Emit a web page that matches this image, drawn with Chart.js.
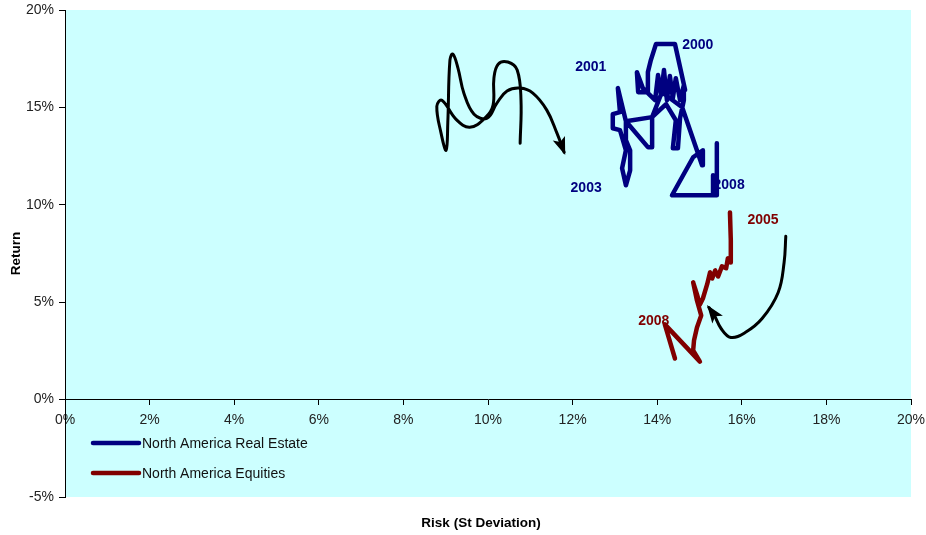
<!DOCTYPE html>
<html><head><meta charset="utf-8">
<script src="https://cdn.jsdelivr.net/npm/chart.js@4"></script>
<style>html,body{margin:0;padding:0;background:#fff}</style>
</head><body>
<canvas id="c" width="926" height="535"></canvas>
<script>
// ---- data (risk = St Deviation %, return = %) ----
const seriesNames = ['North America Real Estate', 'North America Equities'];
const realEstateRisk = [14.66,14.42,13.97,13.85,13.78,13.78,13.55,13.52,13.66,13.95,14.02,14.09,14.16,14.23,14.30,14.37,14.44,14.54,14.63,14.63,14.54,14.49,14.37,14.44,14.21,13.88,13.88,13.78,13.26,13.07,13.12,12.95,12.95,13.12,13.26,13.17,13.26,13.36,13.36,13.26,13.26,13.88,14.11,14.59,15.06,15.08,14.85,14.35,15.32,15.32,15.32,15.41,15.41,15.41];
const realEstateReturn = [15.89,18.25,18.25,17.43,16.81,15.78,15.78,16.81,15.99,15.37,16.66,15.63,16.92,15.37,16.61,15.48,16.50,15.37,16.14,15.37,14.45,12.90,12.90,14.34,15.17,14.50,12.96,12.96,14.29,15.99,14.76,14.65,13.93,13.83,12.80,11.88,11.00,11.77,12.80,13.32,14.29,14.50,15.78,15.01,12.03,12.80,12.44,10.49,10.49,11.52,10.49,10.49,13.16,11.00];
const equitiesRisk = [15.72,15.74,15.74,15.67,15.63,15.53,15.44,15.37,15.30,15.25,15.18,15.08,15.01,14.94,14.85,14.94,15.04,14.94,14.87,14.85,15.01,14.18,14.42];
const equitiesReturn = [9.61,8.17,7.04,7.25,6.74,6.84,6.32,6.63,6.22,6.53,5.91,5.19,4.88,5.40,6.02,5.09,4.32,3.70,3.03,2.52,1.95,3.86,2.11];
// annotation arrows (hand-drawn curves in the original)
const arrow1Risk = [10.76,10.78,10.69,10.47,10.24,10.14,10.12,9.95,9.57,9.24,8.91,8.79,8.89,9.01,9.05,9.10,9.17,9.29,9.43,9.67,9.98,10.21,10.45,10.76,11.06,11.39,11.63,11.80];
const arrow1Return = [13.16,15.37,16.92,17.33,17.22,16.50,15.12,14.50,13.98,14.40,15.37,15.06,13.68,12.80,14.24,17.43,17.74,17.02,15.73,14.65,14.45,15.22,15.84,15.99,15.73,14.86,13.68,12.70];
const arrow2Risk = [17.04,17.00,16.86,16.48,16.08,15.74,15.51,15.34,15.22];
const arrow2Return = [8.38,7.04,5.50,4.16,3.44,3.19,3.65,4.37,4.73];
// year labels
const yearLabels = ['2000','2001','2003','2008','2005','2008'];
const yearLabelSeries = [0,0,0,0,1,1];
const yearLabelRisk = [14.96,12.43,12.32,15.70,16.50,13.92];
const yearLabelReturn = [18.20,17.07,10.85,11.00,9.20,4.01];
// ticks
const xTickValues = [0,2,4,6,8,10,12,14,16,18,20];
const yTickValues = [-5,0,5,10,15,20];
const xTitle = 'Risk (St Deviation)';
const yTitle = 'Return';

// ---- styles ----
const FONT = 'Liberation Sans, Arial, sans-serif';
const seriesColors = ['#000080', '#800000'];
const plotBg = '#CCFFFF';

const pts = (xs, ys) => xs.map((x, i) => ({x: x, y: ys[i]}));

const decor = {
  id: 'decor',
  beforeDraw(chart) {
    const {ctx, chartArea: a} = chart;
    ctx.save();
    ctx.fillStyle = plotBg;
    ctx.fillRect(a.left, a.top, a.right - a.left, a.bottom - a.top);
    ctx.restore();
  },
  afterDatasetsDraw(chart) {
    const {ctx} = chart;
    const sx = chart.scales.x, sy = chart.scales.y;
    ctx.save();
    // arrowheads on the annotation curves
    [2, 3].forEach(di => {
      const meta = chart.getDatasetMeta(di);
      const n = meta.data.length;
      const p = meta.data[n - 1];
      let fx = p.cp1x, fy = p.cp1y;
      if (fx === undefined || (Math.abs(fx - p.x) < 0.5 && Math.abs(fy - p.y) < 0.5)) {
        fx = meta.data[n - 2].x; fy = meta.data[n - 2].y;
      }
      const ang = Math.atan2(p.y - fy, p.x - fx);
      const L = 15, W = 6.5;
      ctx.fillStyle = '#000';
      ctx.beginPath();
      ctx.moveTo(p.x + Math.cos(ang) * 3, p.y + Math.sin(ang) * 3);
      ctx.lineTo(p.x - Math.cos(ang) * L + Math.sin(ang) * W, p.y - Math.sin(ang) * L - Math.cos(ang) * W);
      ctx.lineTo(p.x - Math.cos(ang) * (L - 4), p.y - Math.sin(ang) * (L - 4));
      ctx.lineTo(p.x - Math.cos(ang) * L - Math.sin(ang) * W, p.y - Math.sin(ang) * L + Math.cos(ang) * W);
      ctx.closePath();
      ctx.fill();
    });
    // year labels
    ctx.font = 'bold 14px ' + FONT;
    ctx.textAlign = 'center';
    ctx.textBaseline = 'middle';
    yearLabels.forEach((t, i) => {
      ctx.fillStyle = seriesColors[yearLabelSeries[i]];
      ctx.fillText(t, sx.getPixelForValue(yearLabelRisk[i]), sy.getPixelForValue(yearLabelReturn[i]));
    });
    ctx.restore();
  },
  afterDraw(chart) {
    const {ctx, chartArea: a} = chart;
    ctx.save();
    // legend (inside plot area, bottom-left)
    ctx.font = '14px ' + FONT;
    ctx.textBaseline = 'middle';
    ctx.textAlign = 'left';
    ctx.lineCap = 'round';
    ctx.lineWidth = 4.5;
    [0, 1].forEach(i => {
      const y = a.bottom - 54 + i * 30;
      ctx.strokeStyle = seriesColors[i];
      ctx.beginPath();
      ctx.moveTo(a.left + 28, y);
      ctx.lineTo(a.left + 74, y);
      ctx.stroke();
      ctx.fillStyle = '#111';
      ctx.fillText(chart.data.datasets[i].label, a.left + 77, y + 1);
    });
    // axis titles
    ctx.font = 'bold 13.5px ' + FONT;
    ctx.fillStyle = '#000';
    ctx.textAlign = 'center';
    ctx.fillText(xTitle, (a.left + a.right) / 2 - 7, a.bottom + 26);
    ctx.translate(16, (a.top + a.bottom) / 2);
    ctx.rotate(-Math.PI / 2);
    ctx.fillText(yTitle, 0, 0);
    ctx.restore();
  }
};

new Chart(document.getElementById('c'), {
  type: 'scatter',
  data: {
    datasets: [
      {label: seriesNames[0], data: pts(realEstateRisk, realEstateReturn), showLine: true,
       borderColor: seriesColors[0], backgroundColor: seriesColors[0], borderWidth: 4.5,
       borderJoinStyle: 'round', borderCapStyle: 'round', pointRadius: 0, tension: 0},
      {label: seriesNames[1], data: pts(equitiesRisk, equitiesReturn), showLine: true,
       borderColor: seriesColors[1], backgroundColor: seriesColors[1], borderWidth: 4.5,
       borderJoinStyle: 'round', borderCapStyle: 'round', pointRadius: 0, tension: 0},
      {label: 'arrow1', data: pts(arrow1Risk, arrow1Return), showLine: true,
       borderColor: '#000', borderWidth: 3, pointRadius: 0, tension: 0.4, borderCapStyle: 'round'},
      {label: 'arrow2', data: pts(arrow2Risk, arrow2Return), showLine: true,
       borderColor: '#000', borderWidth: 3, pointRadius: 0, tension: 0.4, borderCapStyle: 'round'}
    ]
  },
  options: {
    responsive: false, animation: false, devicePixelRatio: 1,
    layout: {padding: {left: 0, top: 10, right: 15, bottom: 38}},
    plugins: {legend: {display: false}, tooltip: {enabled: false}, title: {display: false}},
    scales: {
      x: {
        type: 'linear', position: {y: 0}, min: 0, max: 20,
        afterBuildTicks: s => { s.ticks = xTickValues.map(v => ({value: v})); },
        ticks: {callback: v => v + '%', font: {family: FONT, size: 14}, color: '#222', padding: 7, maxRotation: 0, autoSkip: false},
        grid: {drawOnChartArea: false, tickLength: 5, color: '#000'},
        border: {color: '#000', width: 1},
        afterFit: s => { s.paddingLeft = 0; s.paddingRight = 0; s.paddingTop = 0; s.paddingBottom = 0; }
      },
      y: {
        type: 'linear', position: 'left', min: -5, max: 20,
        afterBuildTicks: s => { s.ticks = yTickValues.map(v => ({value: v})); },
        ticks: {callback: v => v + '%', font: {family: FONT, size: 14}, color: '#222', padding: 5, autoSkip: false},
        grid: {drawOnChartArea: false, tickLength: 6, color: '#000'},
        border: {color: '#000', width: 1},
        afterFit: s => { s.width = 65; s.paddingTop = 0; s.paddingBottom = 0; s.paddingLeft = 0; s.paddingRight = 0; }
      }
    }
  },
  plugins: [decor]
});
</script>
</body></html>
